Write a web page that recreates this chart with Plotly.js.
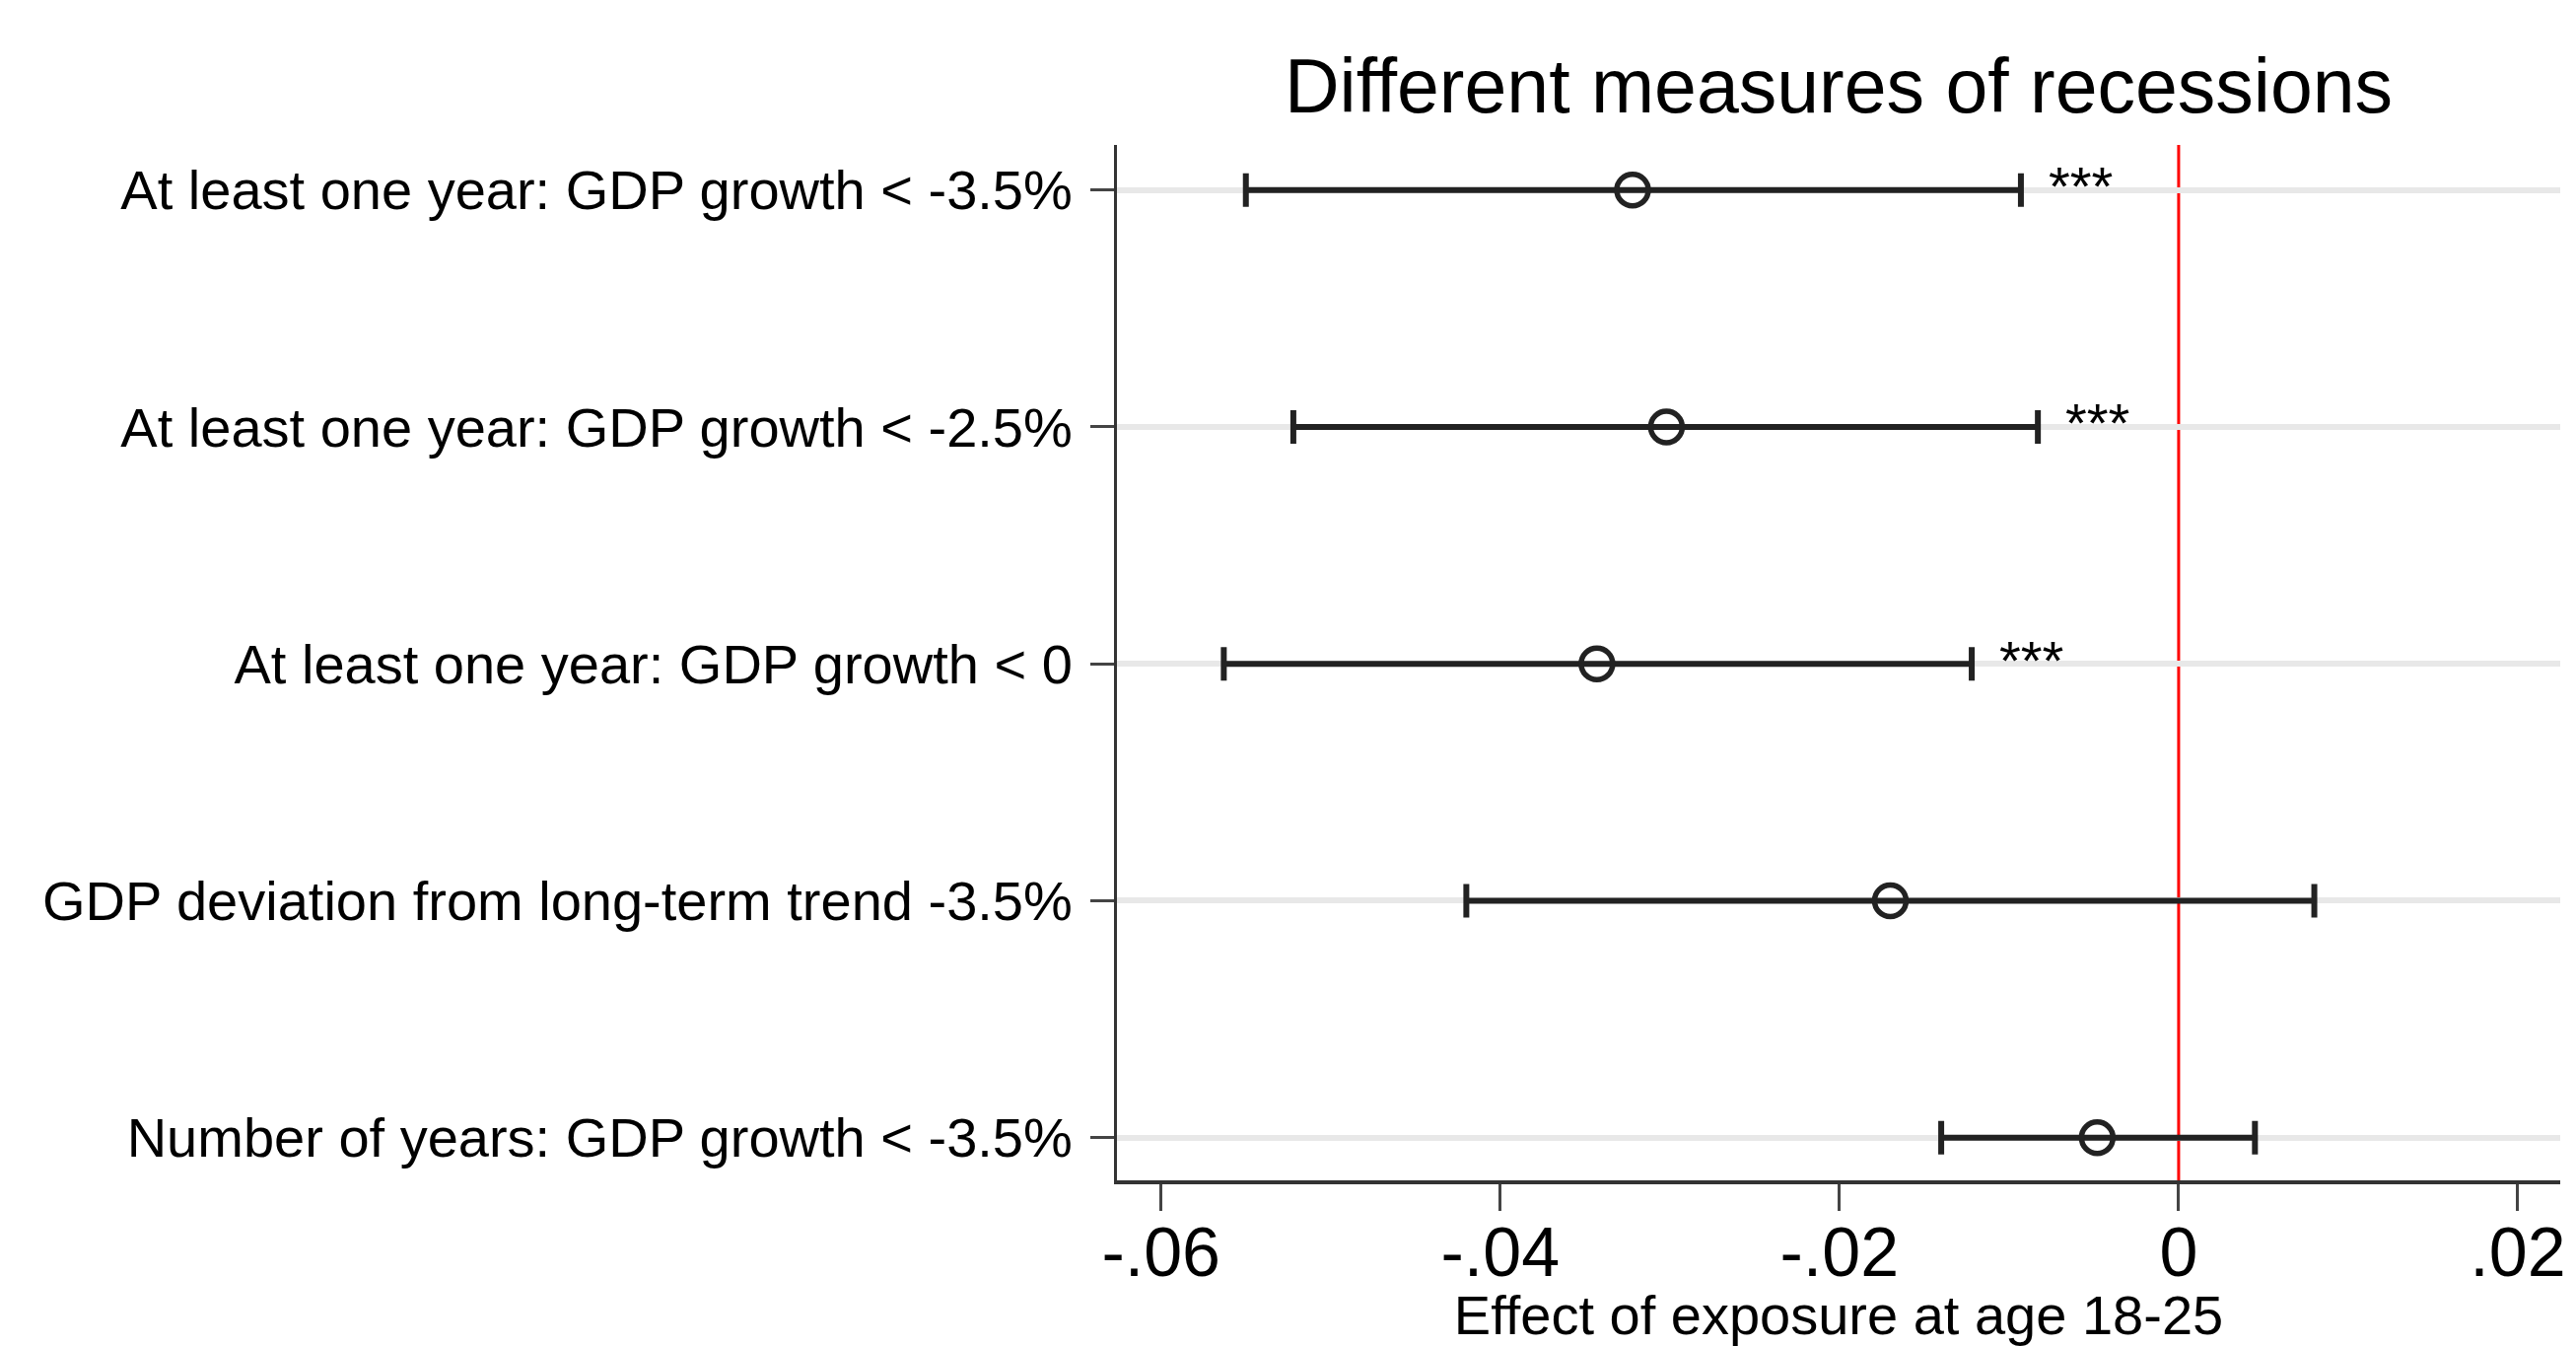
<!DOCTYPE html>
<html>
<head>
<meta charset="utf-8">
<script src="https://cdn.plot.ly/plotly-3.0.1.min.js"></script>
<style>html,body{margin:0;padding:0;background:#fff;}#chart{width:2613px;height:1365px;}</style>
</head>
<body>
<div id="chart"></div>
<script>
const categories = [
  "At least one year: GDP growth < -3.5%",
  "At least one year: GDP growth < -2.5%",
  "At least one year: GDP growth < 0",
  "GDP deviation from long-term trend -3.5%",
  "Number of years: GDP growth < -3.5%"
];
const pointEst = [-0.0322, -0.0302, -0.0343, -0.0170, -0.0048];
const ciLower  = [-0.0550, -0.0522, -0.0563, -0.0420, -0.0140];
const ciUpper  = [-0.0093, -0.0083, -0.0122,  0.0080,  0.0045];
const stars    = ["***", "***", "***", "", ""];
const xTickVals = [-0.06, -0.04, -0.02, 0, 0.02];
const xTickText = ["-.06", "-.04", "-.02", "0", ".02"];

const FONT = "Liberation Sans, Arial, Helvetica, sans-serif";

const trace = {
  type: "scatter",
  mode: "markers",
  x: pointEst,
  y: categories,
  marker: {symbol: "circle-open", size: 32, color: "#222222", line: {width: 5.5, color: "#222222"}},
  error_x: {
    type: "data",
    symmetric: false,
    array: ciUpper.map((u, i) => u - pointEst[i]),
    arrayminus: pointEst.map((p, i) => p - ciLower[i]),
    color: "#222222",
    thickness: 6,
    width: 17
  },
  hoverinfo: "x+y",
  showlegend: false
};

const annotations = stars.map((s, i) => ({
  x: ciUpper[i], y: categories[i], xref: "x", yref: "y",
  text: s, showarrow: false, xanchor: "left", yanchor: "middle",
  xshift: 26, yshift: 4,
  font: {family: FONT, size: 56, color: "#000"}
})).filter(a => a.text !== "");

const layout = {
  width: 2613, height: 1365,
  paper_bgcolor: "#ffffff", plot_bgcolor: "#ffffff",
  margin: {l: 1133, r: 16, t: 147, b: 168, pad: 0},
  font: {family: FONT, color: "#000"},
  title: {
    text: "Different measures of recessions",
    font: {family: FONT, size: 77, color: "#000"},
    x: 0.5, xref: "paper", xanchor: "center",
    y: 1 - 87 / 1365, yref: "container", yanchor: "middle"
  },
  xaxis: {
    range: [-0.0626, 0.0225],
    tickvals: xTickVals, ticktext: xTickText,
    ticks: "outside", ticklen: 27, tickwidth: 3, tickcolor: "#444",
    ticklabelstandoff: -18,
    tickfont: {family: FONT, size: 70, color: "#000"},
    showline: true, linecolor: "#333", linewidth: 4,
    showgrid: false, zeroline: false,
    automargin: false,
    title: {text: "Effect of exposure at age 18-25", font: {family: FONT, size: 56, color: "#000"}, standoff: 17}
  },
  yaxis: {
    type: "category",
    range: [4.18, -0.19],
    ticks: "outside", ticklen: 24, tickwidth: 3, tickcolor: "#444",
    ticklabelstandoff: 7,
    tickfont: {family: FONT, size: 56, color: "#000"},
    showline: true, linecolor: "#333", linewidth: 3,
    showgrid: true, gridcolor: "#e8e8e8", gridwidth: 6,
    zeroline: false, automargin: false
  },
  shapes: [{
    type: "line", xref: "x", yref: "paper",
    x0: 0, x1: 0, y0: 0, y1: 1,
    line: {color: "#ff0000", width: 3}, layer: "below"
  }],
  annotations: annotations
};

Plotly.newPlot("chart", [trace], layout, {staticPlot: true});
</script>
</body>
</html>
